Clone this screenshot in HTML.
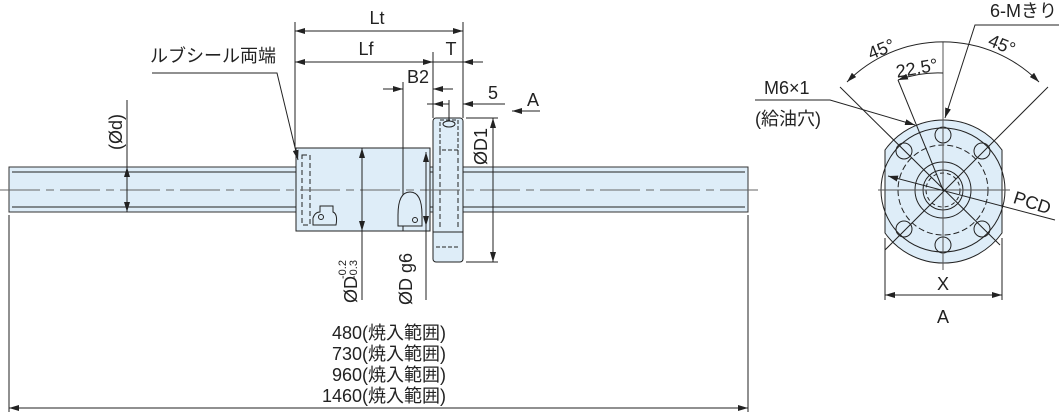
<!DOCTYPE html>
<html><head><meta charset="utf-8"><style>
body{margin:0;background:#fff;}
svg{display:block;font-family:"Liberation Sans","Noto Sans CJK JP",sans-serif;}
</style></head><body>
<svg width="1059" height="414" viewBox="0 0 1059 414" xmlns="http://www.w3.org/2000/svg">
<defs>
<marker id="a" viewBox="0 0 10 6" refX="10" refY="3" markerWidth="10" markerHeight="6" orient="auto-start-reverse" markerUnits="userSpaceOnUse"><path d="M0,0L10,3L0,6z" fill="#222"/></marker>
</defs>
<g stroke="#222" stroke-width="1" fill="none">
<rect x="9" y="167" width="739" height="45" fill="#deedf8" stroke="#333"/>
<line x1="12" y1="172" x2="745" y2="172"/>
<line x1="12" y1="207" x2="745" y2="207"/>
<rect x="296" y="148" width="134" height="83" fill="#deedf8"/>
<line x1="403" y1="148" x2="403" y2="231"/>
<rect x="302" y="155" width="8" height="70" stroke-dasharray="5,3"/>
<rect x="433" y="118" width="30" height="144" rx="3" fill="#deedf8"/>
<rect x="440" y="120" width="18" height="30" stroke-dasharray="4,2"/>
<ellipse cx="449" cy="124" rx="6" ry="3"/>
<line x1="440" y1="150" x2="440" y2="228" stroke-dasharray="5,3"/>
<line x1="458" y1="150" x2="458" y2="228" stroke-dasharray="5,3"/>
<line x1="433" y1="232" x2="463" y2="232"/>
<line x1="436" y1="247" x2="460" y2="247" stroke-dasharray="4,2"/>
<path d="M313,225 L313,218 Q315,212 320,212 L320,206 L333,206 L333,212 Q338,214 336,225 Z" fill="#deedf8"/>
<circle cx="321" cy="217" r="2.5"/>
<path d="M398,226 L398,215 Q398,192 410,192 Q422,192 422,215 L422,226 Z" fill="#deedf8"/>
<circle cx="415" cy="220" r="2.5"/>
<line x1="0" y1="190" x2="758" y2="190" stroke="#666" stroke-dasharray="40,6,8,6"/>
<line x1="295" y1="22" x2="295" y2="148"/>
<line x1="463" y1="22" x2="463" y2="118"/>
<line x1="433" y1="52" x2="433" y2="118"/>
<line x1="403" y1="82" x2="403" y2="148"/>
<line x1="9" y1="215" x2="9" y2="412"/>
<line x1="748" y1="215" x2="748" y2="412"/>
<line x1="295" y1="31" x2="463" y2="31" marker-start="url(#a)" marker-end="url(#a)"/>
<line x1="295" y1="62" x2="433" y2="62" marker-start="url(#a)" marker-end="url(#a)"/>
<line x1="433" y1="62" x2="463" y2="62"/>
<line x1="463" y1="62" x2="483" y2="62" marker-start="url(#a)"/>
<line x1="383" y1="89" x2="403" y2="89" marker-end="url(#a)"/>
<line x1="433" y1="89" x2="453" y2="89" marker-start="url(#a)"/>
<line x1="427" y1="104" x2="448" y2="104"/>
<line x1="449" y1="100" x2="449" y2="120"/>
<line x1="433" y1="104" x2="449" y2="104" marker-start="url(#a)"/>
<line x1="463" y1="104" x2="505" y2="104" marker-start="url(#a)"/>
<line x1="512" y1="111" x2="540" y2="111" marker-start="url(#a)"/>
<line x1="466" y1="118" x2="498" y2="118"/>
<line x1="466" y1="262" x2="498" y2="262"/>
<line x1="493" y1="118" x2="493" y2="262" marker-start="url(#a)" marker-end="url(#a)"/>
<line x1="362" y1="148" x2="362" y2="300" marker-start="url(#a)"/>
<line x1="362" y1="148" x2="362" y2="231" marker-end="url(#a)"/>
<line x1="426" y1="152" x2="426" y2="300" marker-start="url(#a)"/>
<line x1="426" y1="152" x2="426" y2="226" marker-end="url(#a)"/>
<line x1="127" y1="100" x2="127" y2="167" />
<line x1="127" y1="190" x2="127" y2="167" marker-end="url(#a)"/>
<line x1="127" y1="190" x2="127" y2="212" marker-end="url(#a)"/>
<line x1="9" y1="408" x2="748" y2="408" marker-start="url(#a)" marker-end="url(#a)"/>
<polyline points="152,73 277,73 298,160" marker-end="url(#a)"/>
</g>
<g fill="#222" font-size="18">
<text x="377" y="24" text-anchor="middle">Lt</text>
<text x="366" y="55" text-anchor="middle">Lf</text>
<text x="451" y="55" text-anchor="middle">T</text>
<text x="418" y="83" text-anchor="middle">B2</text>
<text x="493" y="99" text-anchor="middle">5</text>
<text x="533" y="106" text-anchor="middle">A</text>
<text x="150" y="62">ルブシール両端</text>
<text transform="translate(122,150) rotate(-90)">(Ød)</text>
<text transform="translate(487,165) rotate(-90)">ØD1</text>
<text transform="translate(357,303) rotate(-90)">ØD</text>
<text transform="translate(346,279) rotate(-90)" font-size="11">-0.2</text>
<text transform="translate(357,279) rotate(-90)" font-size="11">-0.3</text>
<text transform="translate(412,305) rotate(-90)">ØD g6</text>
<text x="446" y="339" text-anchor="end">480(焼入範囲)</text>
<text x="446" y="360" text-anchor="end">730(焼入範囲)</text>
<text x="446" y="381" text-anchor="end">960(焼入範囲)</text>
<text x="446" y="402" text-anchor="end">1460(焼入範囲)</text>
</g>
<g stroke="#222" stroke-width="1" fill="none">
<path d="M885,150 A72,72 0 0 1 1002,150 L1002,233 A72,72 0 0 1 885,233 Z" fill="#deedf8"/>
<circle cx="943" cy="190" r="62"/>
<circle cx="943" cy="190" r="45" stroke-dasharray="6,3"/>
<circle cx="943" cy="190" r="28"/>
<circle cx="943" cy="190" r="20"/>
<circle cx="943" cy="190" r="17" stroke-dasharray="4,3"/>
<circle cx="943" cy="135" r="8"/>
<circle cx="943" cy="245" r="8"/>
<circle cx="904" cy="151" r="8"/>
<circle cx="982" cy="151" r="8"/>
<circle cx="904" cy="229" r="8"/>
<circle cx="982" cy="229" r="8"/>
<line x1="878" y1="190" x2="1010" y2="190" stroke="#555"/>
<line x1="943" y1="42" x2="943" y2="270" stroke="#555"/>
<line x1="840" y1="87" x2="1000" y2="245"/>
<line x1="1048" y1="87" x2="885" y2="250"/>
<line x1="898" y1="80" x2="943" y2="190"/>
<path d="M847,82 A135,135 0 0 1 1039,82" marker-start="url(#a)" marker-end="url(#a)"/>
<path d="M898,80 A115,115 0 0 1 943,73" marker-start="url(#a)"/>
<polyline points="1059,25 975,25 945,118" marker-end="url(#a)"/>
<polyline points="755,100 830,100 915,125" marker-end="url(#a)"/>
<line x1="1055" y1="220" x2="888" y2="176" marker-end="url(#a)"/>
<line x1="885" y1="238" x2="885" y2="300"/>
<line x1="1002" y1="238" x2="1002" y2="300"/>
<line x1="885" y1="295" x2="1002" y2="295" marker-start="url(#a)" marker-end="url(#a)"/>
</g>
<g fill="#222" font-size="18">
<text x="990" y="17">6-Mきり</text>
<text x="868" y="55" transform="rotate(-22 882 50)">45°</text>
<text x="988" y="50" transform="rotate(22 1000 45)">45°</text>
<text x="896" y="75" transform="rotate(-10 912 70)">22.5°</text>
<text x="764" y="94">M6×1</text>
<text x="755" y="125">(給油穴)</text>
<text x="1014" y="208" transform="rotate(18 1030 200)">PCD</text>
<text x="943" y="290" text-anchor="middle">X</text>
<text x="943" y="323" text-anchor="middle">A</text>
</g>
</svg>
</body></html>
